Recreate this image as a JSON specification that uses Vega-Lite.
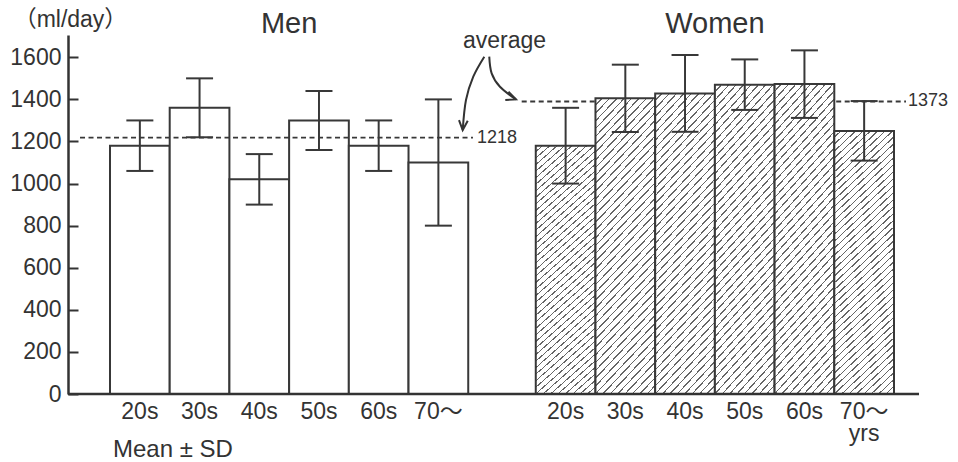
{
  "$schema": "https://vega.github.io/schema/vega-lite/v6.json",
  "width": 851,
  "height": 359,
  "autosize": {"type": "none"},
  "padding": {"left": 68, "top": 35, "right": 39, "bottom": 68},
  "background": "white",
  "config": {
    "view": {"stroke": null},
    "font": "Liberation Sans",
    "numberFormat": "d",
    "axisY": {"grid": false, "domainColor": "#333", "domainWidth": 2.5, "tickColor": "#333", "tickWidth": 2, "tickSize": -10, "labelPadding": 17, "labelFontSize": 23, "labelColor": "#333", "labelFont": "Liberation Sans",
      "titleAngle": 0, "titleX": 2, "titleY": -16, "titleAlign": "center", "titleBaseline": "middle", "titleFontSize": 23, "titleFontWeight": "normal", "titleColor": "#333", "titleFont": "Liberation Sans, Noto Sans CJK JP"}
  },
  "title": {"text": "Mean ± SD", "orient": "bottom", "anchor": "start", "frame": "group", "offset": -8, "dx": 45, "fontSize": 24, "fontWeight": "normal", "color": "#333", "font": "Liberation Sans, Noto Sans CJK JP"},
  "datasets": {
    "bars": [
      {"sex": "Men", "age": "20s", "mean": 1180, "lo": 1060, "hi": 1300, "unit": ""},
      {"sex": "Men", "age": "30s", "mean": 1360, "lo": 1220, "hi": 1500, "unit": ""},
      {"sex": "Men", "age": "40s", "mean": 1020, "lo": 900, "hi": 1140, "unit": ""},
      {"sex": "Men", "age": "50s", "mean": 1300, "lo": 1160, "hi": 1440, "unit": ""},
      {"sex": "Men", "age": "60s", "mean": 1180, "lo": 1060, "hi": 1300, "unit": ""},
      {"sex": "Men", "age": "70～", "mean": 1100, "lo": 800, "hi": 1400, "unit": ""},
      {"sex": "Women", "age": "20s", "mean": 1180, "lo": 1000, "hi": 1360, "unit": ""},
      {"sex": "Women", "age": "30s", "mean": 1405, "lo": 1245, "hi": 1565, "unit": ""},
      {"sex": "Women", "age": "40s", "mean": 1428, "lo": 1246, "hi": 1611, "unit": ""},
      {"sex": "Women", "age": "50s", "mean": 1470, "lo": 1350, "hi": 1590, "unit": ""},
      {"sex": "Women", "age": "60s", "mean": 1473, "lo": 1312, "hi": 1633, "unit": ""},
      {"sex": "Women", "age": "70～", "mean": 1250, "lo": 1109, "hi": 1392, "unit": "yrs"}
    ],
    "avg": [
      {"sex": "Men", "from": -0.502, "to": 6.078, "y": 1218, "label": "1218", "lx": 6.145},
      {"sex": "Women", "from": 6.894, "to": 13.329, "y": 1390, "label": "1373", "lx": 13.362}
    ],
    "notes": [
      {"text": "average", "u": 6.606, "v": 1643}
    ],
    "arrows": [
      {"arrow": "a1", "i": 0, "u": 6.268, "v": 1603},
      {"arrow": "a1", "i": 1, "u": 6.083, "v": 1508},
      {"arrow": "a1", "i": 2, "u": 5.961, "v": 1397},
      {"arrow": "a1", "i": 3, "u": 5.906, "v": 1254},
      {"arrow": "a2", "i": 0, "u": 6.351, "v": 1603},
      {"arrow": "a2", "i": 1, "u": 6.391, "v": 1524},
      {"arrow": "a2", "i": 2, "u": 6.530, "v": 1460},
      {"arrow": "a2", "i": 3, "u": 6.798, "v": 1400}
    ],
    "tips": [
      {"arrow": "a1", "u": 5.906, "v": 1254},
      {"arrow": "a2", "u": 6.798, "v": 1400}
    ]
  },
  "layer": [
    {
      "data": {"name": "avg"},
      "transform": [{"filter": "datum.sex === 'Women'"}],
      "mark": {"type": "rule", "stroke": "#383838", "strokeWidth": 1.8, "strokeDash": [5, 3.5]},
      "encoding": {
        "x": {"field": "from", "type": "quantitative", "scale": {"domain": [-0.7033, 13.547], "nice": false, "zero": false}, "axis": null},
        "x2": {"field": "to"},
        "y": {"field": "y", "type": "quantitative", "scale": {"domain": [0, 1706], "nice": false},
          "axis": {"values": [0, 200, 400, 600, 800, 1000, 1200, 1400, 1600], "format": "d", "title": "（ml/day）"}}
      }
    },
    {
      "data": {"name": "bars"},
      "encoding": {
        "x": {"field": "sex", "type": "nominal", "scale": {"domain": ["Men", "Women"], "range": [42, 826], "paddingInner": 0.1586, "paddingOuter": 0},
          "axis": {"orient": "top", "domain": false, "ticks": false, "labelFontSize": 29, "labelAngle": 0, "labelPadding": 3, "labelBaseline": "alphabetic", "labelColor": "#333", "labelFont": "Liberation Sans", "title": null}},
        "xOffset": {"field": "age", "type": "nominal", "scale": {"domain": ["20s", "30s", "40s", "50s", "60s", "70～"], "paddingInner": 0, "paddingOuter": 0}}
      },
      "layer": [
        {
          "transform": [{"filter": "datum.sex === 'Men'"}],
          "mark": {"type": "bar", "fill": "white", "stroke": "#383838", "strokeWidth": 2},
          "encoding": {
            "y": {"field": "mean", "type": "quantitative", "scale": {"domain": [0, 1706], "nice": false}}
          }
        },
        {
          "transform": [{"filter": "datum.sex === 'Women'"}],
          "mark": {"type": "bar", "stroke": "#383838", "strokeWidth": 2,
            "fill": {"gradient": "linear", "x1": 0, "y1": 0, "x2": 0.2474, "y2": 1.1605, "stops": [
              {"offset": 0, "color": "#fff"}, {"offset": 0.0174, "color": "#fff"}, {"offset": 0.0174, "color": "#666"}, {"offset": 0.0217, "color": "#666"},
              {"offset": 0.0217, "color": "#fff"}, {"offset": 0.0391, "color": "#fff"}, {"offset": 0.0391, "color": "#666"}, {"offset": 0.0435, "color": "#666"},
              {"offset": 0.0435, "color": "#fff"}, {"offset": 0.0609, "color": "#fff"}, {"offset": 0.0609, "color": "#666"}, {"offset": 0.0652, "color": "#666"},
              {"offset": 0.0652, "color": "#fff"}, {"offset": 0.0826, "color": "#fff"}, {"offset": 0.0826, "color": "#666"}, {"offset": 0.0870, "color": "#666"},
              {"offset": 0.0870, "color": "#fff"}, {"offset": 0.1043, "color": "#fff"}, {"offset": 0.1043, "color": "#666"}, {"offset": 0.1087, "color": "#666"},
              {"offset": 0.1087, "color": "#fff"}, {"offset": 0.1261, "color": "#fff"}, {"offset": 0.1261, "color": "#666"}, {"offset": 0.1304, "color": "#666"},
              {"offset": 0.1304, "color": "#fff"}, {"offset": 0.1478, "color": "#fff"}, {"offset": 0.1478, "color": "#666"}, {"offset": 0.1522, "color": "#666"},
              {"offset": 0.1522, "color": "#fff"}, {"offset": 0.1696, "color": "#fff"}, {"offset": 0.1696, "color": "#666"}, {"offset": 0.1739, "color": "#666"},
              {"offset": 0.1739, "color": "#fff"}, {"offset": 0.1913, "color": "#fff"}, {"offset": 0.1913, "color": "#666"}, {"offset": 0.1957, "color": "#666"},
              {"offset": 0.1957, "color": "#fff"}, {"offset": 0.2130, "color": "#fff"}, {"offset": 0.2130, "color": "#666"}, {"offset": 0.2174, "color": "#666"},
              {"offset": 0.2174, "color": "#fff"}, {"offset": 0.2348, "color": "#fff"}, {"offset": 0.2348, "color": "#666"}, {"offset": 0.2391, "color": "#666"},
              {"offset": 0.2391, "color": "#fff"}, {"offset": 0.2565, "color": "#fff"}, {"offset": 0.2565, "color": "#666"}, {"offset": 0.2609, "color": "#666"},
              {"offset": 0.2609, "color": "#fff"}, {"offset": 0.2783, "color": "#fff"}, {"offset": 0.2783, "color": "#666"}, {"offset": 0.2826, "color": "#666"},
              {"offset": 0.2826, "color": "#fff"}, {"offset": 0.3000, "color": "#fff"}, {"offset": 0.3000, "color": "#666"}, {"offset": 0.3043, "color": "#666"},
              {"offset": 0.3043, "color": "#fff"}, {"offset": 0.3217, "color": "#fff"}, {"offset": 0.3217, "color": "#666"}, {"offset": 0.3261, "color": "#666"},
              {"offset": 0.3261, "color": "#fff"}, {"offset": 0.3435, "color": "#fff"}, {"offset": 0.3435, "color": "#666"}, {"offset": 0.3478, "color": "#666"},
              {"offset": 0.3478, "color": "#fff"}, {"offset": 0.3652, "color": "#fff"}, {"offset": 0.3652, "color": "#666"}, {"offset": 0.3696, "color": "#666"},
              {"offset": 0.3696, "color": "#fff"}, {"offset": 0.3870, "color": "#fff"}, {"offset": 0.3870, "color": "#666"}, {"offset": 0.3913, "color": "#666"},
              {"offset": 0.3913, "color": "#fff"}, {"offset": 0.4087, "color": "#fff"}, {"offset": 0.4087, "color": "#666"}, {"offset": 0.4130, "color": "#666"},
              {"offset": 0.4130, "color": "#fff"}, {"offset": 0.4304, "color": "#fff"}, {"offset": 0.4304, "color": "#666"}, {"offset": 0.4348, "color": "#666"},
              {"offset": 0.4348, "color": "#fff"}, {"offset": 0.4522, "color": "#fff"}, {"offset": 0.4522, "color": "#666"}, {"offset": 0.4565, "color": "#666"},
              {"offset": 0.4565, "color": "#fff"}, {"offset": 0.4739, "color": "#fff"}, {"offset": 0.4739, "color": "#666"}, {"offset": 0.4783, "color": "#666"},
              {"offset": 0.4783, "color": "#fff"}, {"offset": 0.4957, "color": "#fff"}, {"offset": 0.4957, "color": "#666"}, {"offset": 0.5000, "color": "#666"},
              {"offset": 0.5000, "color": "#fff"}, {"offset": 0.5174, "color": "#fff"}, {"offset": 0.5174, "color": "#666"}, {"offset": 0.5217, "color": "#666"},
              {"offset": 0.5217, "color": "#fff"}, {"offset": 0.5391, "color": "#fff"}, {"offset": 0.5391, "color": "#666"}, {"offset": 0.5435, "color": "#666"},
              {"offset": 0.5435, "color": "#fff"}, {"offset": 0.5609, "color": "#fff"}, {"offset": 0.5609, "color": "#666"}, {"offset": 0.5652, "color": "#666"},
              {"offset": 0.5652, "color": "#fff"}, {"offset": 0.5826, "color": "#fff"}, {"offset": 0.5826, "color": "#666"}, {"offset": 0.5870, "color": "#666"},
              {"offset": 0.5870, "color": "#fff"}, {"offset": 0.6043, "color": "#fff"}, {"offset": 0.6043, "color": "#666"}, {"offset": 0.6087, "color": "#666"},
              {"offset": 0.6087, "color": "#fff"}, {"offset": 0.6261, "color": "#fff"}, {"offset": 0.6261, "color": "#666"}, {"offset": 0.6304, "color": "#666"},
              {"offset": 0.6304, "color": "#fff"}, {"offset": 0.6478, "color": "#fff"}, {"offset": 0.6478, "color": "#666"}, {"offset": 0.6522, "color": "#666"},
              {"offset": 0.6522, "color": "#fff"}, {"offset": 0.6696, "color": "#fff"}, {"offset": 0.6696, "color": "#666"}, {"offset": 0.6739, "color": "#666"},
              {"offset": 0.6739, "color": "#fff"}, {"offset": 0.6913, "color": "#fff"}, {"offset": 0.6913, "color": "#666"}, {"offset": 0.6957, "color": "#666"},
              {"offset": 0.6957, "color": "#fff"}, {"offset": 0.7130, "color": "#fff"}, {"offset": 0.7130, "color": "#666"}, {"offset": 0.7174, "color": "#666"},
              {"offset": 0.7174, "color": "#fff"}, {"offset": 0.7348, "color": "#fff"}, {"offset": 0.7348, "color": "#666"}, {"offset": 0.7391, "color": "#666"},
              {"offset": 0.7391, "color": "#fff"}, {"offset": 0.7565, "color": "#fff"}, {"offset": 0.7565, "color": "#666"}, {"offset": 0.7609, "color": "#666"},
              {"offset": 0.7609, "color": "#fff"}, {"offset": 0.7783, "color": "#fff"}, {"offset": 0.7783, "color": "#666"}, {"offset": 0.7826, "color": "#666"},
              {"offset": 0.7826, "color": "#fff"}, {"offset": 0.8000, "color": "#fff"}, {"offset": 0.8000, "color": "#666"}, {"offset": 0.8043, "color": "#666"},
              {"offset": 0.8043, "color": "#fff"}, {"offset": 0.8217, "color": "#fff"}, {"offset": 0.8217, "color": "#666"}, {"offset": 0.8261, "color": "#666"},
              {"offset": 0.8261, "color": "#fff"}, {"offset": 0.8435, "color": "#fff"}, {"offset": 0.8435, "color": "#666"}, {"offset": 0.8478, "color": "#666"},
              {"offset": 0.8478, "color": "#fff"}, {"offset": 0.8652, "color": "#fff"}, {"offset": 0.8652, "color": "#666"}, {"offset": 0.8696, "color": "#666"},
              {"offset": 0.8696, "color": "#fff"}, {"offset": 0.8870, "color": "#fff"}, {"offset": 0.8870, "color": "#666"}, {"offset": 0.8913, "color": "#666"},
              {"offset": 0.8913, "color": "#fff"}, {"offset": 0.9087, "color": "#fff"}, {"offset": 0.9087, "color": "#666"}, {"offset": 0.9130, "color": "#666"},
              {"offset": 0.9130, "color": "#fff"}, {"offset": 0.9304, "color": "#fff"}, {"offset": 0.9304, "color": "#666"}, {"offset": 0.9348, "color": "#666"},
              {"offset": 0.9348, "color": "#fff"}, {"offset": 0.9522, "color": "#fff"}, {"offset": 0.9522, "color": "#666"}, {"offset": 0.9565, "color": "#666"},
              {"offset": 0.9565, "color": "#fff"}, {"offset": 0.9739, "color": "#fff"}, {"offset": 0.9739, "color": "#666"}, {"offset": 0.9783, "color": "#666"},
              {"offset": 0.9783, "color": "#fff"}, {"offset": 0.9957, "color": "#fff"}, {"offset": 0.9957, "color": "#666"}, {"offset": 1, "color": "#666"}
            ]}},
          "encoding": {
            "y": {"field": "mean", "type": "quantitative", "scale": {"domain": [0, 1706], "nice": false}}
          }
        },
        {
          "mark": {"type": "rule", "stroke": "#383838", "strokeWidth": 2},
          "encoding": {
            "y": {"field": "lo", "type": "quantitative", "scale": {"domain": [0, 1706], "nice": false}},
            "y2": {"field": "hi"}
          }
        },
        {
          "mark": {"type": "tick", "size": 27, "thickness": 2, "color": "#383838", "opacity": 1},
          "encoding": {
            "y": {"field": "lo", "type": "quantitative", "scale": {"domain": [0, 1706], "nice": false}}
          }
        },
        {
          "mark": {"type": "tick", "size": 27, "thickness": 2, "color": "#383838", "opacity": 1},
          "encoding": {
            "y": {"field": "hi", "type": "quantitative", "scale": {"domain": [0, 1706], "nice": false}}
          }
        },
        {
          "mark": {"type": "text", "dy": 25, "baseline": "alphabetic", "align": "center", "fontSize": 23, "color": "#333", "font": "Liberation Sans, Noto Sans CJK JP"},
          "encoding": {
            "y": {"datum": 0, "type": "quantitative", "scale": {"domain": [0, 1706], "nice": false}},
            "text": {"field": "age"}
          }
        },
        {
          "transform": [{"filter": "datum.unit !== ''"}],
          "mark": {"type": "text", "dy": 47, "baseline": "alphabetic", "align": "center", "fontSize": 23, "color": "#333", "font": "Liberation Sans"},
          "encoding": {
            "y": {"datum": 0, "type": "quantitative", "scale": {"domain": [0, 1706], "nice": false}},
            "text": {"field": "unit"}
          }
        }
      ]
    },
    {
      "encoding": {
        "x": {"field": "u", "type": "quantitative", "scale": {"domain": [-0.7033, 13.547], "nice": false, "zero": false}, "axis": null}
      },
      "layer": [
        {
          "data": {"name": "avg"},
          "transform": [{"filter": "datum.sex === 'Men'"}],
          "mark": {"type": "rule", "stroke": "#383838", "strokeWidth": 1.8, "strokeDash": [5, 3.5]},
          "encoding": {
            "x": {"field": "from", "type": "quantitative", "scale": {"domain": [-0.7033, 13.547], "nice": false, "zero": false}, "axis": null},
            "x2": {"field": "to"},
            "y": {"field": "y", "type": "quantitative", "scale": {"domain": [0, 1706], "nice": false}}
          }
        },
        {
          "data": {"name": "avg"},
          "mark": {"type": "text", "align": "left", "baseline": "middle", "fontSize": 18, "color": "#333", "font": "Liberation Sans"},
          "encoding": {
            "x": {"field": "lx", "type": "quantitative", "scale": {"domain": [-0.7033, 13.547], "nice": false, "zero": false}, "axis": null},
            "y": {"field": "y", "type": "quantitative", "scale": {"domain": [0, 1706], "nice": false}},
            "text": {"field": "label"}
          }
        },
        {
          "data": {"name": "notes"},
          "mark": {"type": "text", "align": "center", "baseline": "alphabetic", "fontSize": 23, "color": "#333", "font": "Liberation Sans"},
          "encoding": {
            "y": {"field": "v", "type": "quantitative", "scale": {"domain": [0, 1706], "nice": false}},
            "text": {"field": "text"}
          }
        },
        {
          "data": {"name": "arrows"},
          "mark": {"type": "line", "interpolate": "cardinal", "stroke": "#333", "strokeWidth": 2},
          "encoding": {
            "y": {"field": "v", "type": "quantitative", "scale": {"domain": [0, 1706], "nice": false}},
            "detail": {"field": "arrow"},
            "order": {"field": "i"}
          }
        },
        {
          "data": {"name": "tips"},
          "transform": [{"filter": "datum.arrow === 'a1'"}],
          "mark": {"type": "point", "shape": "M -1 -0.45 L 0 0 L -1 0.45", "size": 380, "angle": 94, "filled": false, "fill": null, "stroke": "#333", "strokeWidth": 2, "opacity": 1},
          "encoding": {
            "y": {"field": "v", "type": "quantitative", "scale": {"domain": [0, 1706], "nice": false}}
          }
        },
        {
          "data": {"name": "tips"},
          "transform": [{"filter": "datum.arrow === 'a2'"}],
          "mark": {"type": "point", "shape": "M -1 -0.45 L 0 0 L -1 0.45", "size": 380, "angle": 21, "filled": false, "fill": null, "stroke": "#333", "strokeWidth": 2, "opacity": 1},
          "encoding": {
            "y": {"field": "v", "type": "quantitative", "scale": {"domain": [0, 1706], "nice": false}}
          }
        },
        {
          "data": {"values": [{}]},
          "mark": {"type": "rule", "stroke": "#333", "strokeWidth": 2.5},
          "encoding": {
            "x": {"value": 0},
            "x2": {"value": 851},
            "y": {"datum": 0, "type": "quantitative", "scale": {"domain": [0, 1706], "nice": false}}
          }
        }
      ]
    }
  ],
  "resolve": {"scale": {"x": "independent"}}
}
